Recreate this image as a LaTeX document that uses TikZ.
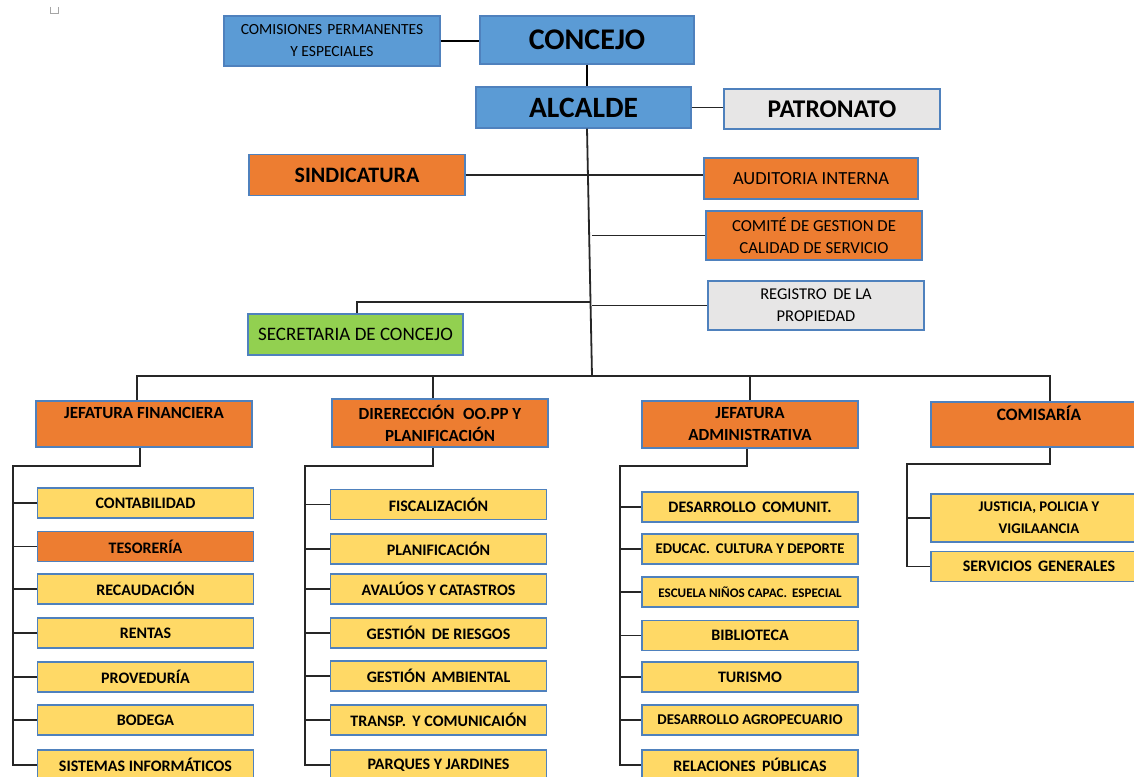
\documentclass[tikz,border=0pt]{standalone}
\usepackage{fontspec}
\setmainfont{Carlito}
\usepackage{xcolor}
\usetikzlibrary{positioning}

\definecolor{azul}{HTML}{5B9BD5}
\definecolor{naranja}{HTML}{ED7D31}
\definecolor{amarillo}{HTML}{FFD966}
\definecolor{gris}{HTML}{E7E6E6}
\definecolor{verde}{HTML}{92D050}
\definecolor{borde}{HTML}{4F81BD}
\definecolor{linea}{HTML}{262626}

\begin{document}
\begin{tikzpicture}[x=1pt, y=-1pt,
  caja/.style={draw=borde, line width=1.1pt, inner sep=0pt, align=center,
    minimum width=216pt, minimum height=30pt, font=\bfseries\fontsize{16}{22}\selectfont},
  item/.style={caja, fill=amarillo},
  jefe/.style={caja, fill=naranja, minimum height=46pt, font=\bfseries\fontsize{17}{22}\selectfont},
  linea fina/.style={draw=linea, line width=1.8pt},
  linea gruesa/.style={draw=black, line width=2.6pt}]

\useasboundingbox (0,0) rectangle (1134,776);
\fill[white] (0,0) rectangle (1134,776);
\clip (0,0) rectangle (1134,776);

% marca de parrafo
\draw[gray!70, line width=0.8pt] (50,7) -- (50,13) -- (58,13) -- (58,7);

% nivel superior
\node[caja, fill=azul, minimum height=50pt, font=\fontsize{15.5}{22}\selectfont] (comisiones) at (332,41) {COMISIONES\,\,PERMANENTES\\Y ESPECIALES};
\node[caja, fill=azul, minimum width=214pt, minimum height=48pt, font=\bfseries\fontsize{30}{32}\selectfont] (concejo) at (587,40) {CONCEJO};
\node[caja, fill=azul, minimum width=215pt, minimum height=41pt, font=\bfseries\fontsize{29.5}{32}\selectfont] (alcalde) at (583.5,107.5) {ALCALDE};
\node[caja, fill=gris, minimum height=40pt, font=\bfseries\fontsize{25.5}{28}\selectfont] (patronato) at (832,109) {PATRONATO};

\node[caja, fill=naranja, minimum height=41pt, font=\bfseries\fontsize{22}{24}\selectfont] (sindicatura) at (357,175) {SINDICATURA};
\node[caja, fill=naranja, minimum width=214pt, minimum height=41pt, font=\fontsize{18.5}{22}\selectfont] (auditoria) at (811,178.5) {AUDITORIA INTERNA};
\node[caja, fill=naranja, minimum height=49pt, font=\fontsize{16.8}{22}\selectfont] (comite) at (814,235.5) {COMITÉ DE GESTION DE\\CALIDAD DE SERVICIO};
\node[caja, fill=gris, minimum height=49pt, font=\fontsize{16.5}{22}\selectfont] (registro) at (816,305.5) {REGISTRO\, DE LA\\PROPIEDAD};
\node[caja, fill=verde, minimum width=215pt, minimum height=41pt, font=\fontsize{19}{22}\selectfont] (secretaria) at (355.5,334.5) {SECRETARIA DE CONCEJO};

\coordinate (sec) at (591,302);
\coordinate (bus) at (592,376);

\draw[linea gruesa] (comisiones.east) -- (comisiones.east -| concejo.west);
\draw[linea gruesa] (concejo.south) -- (concejo.south |- alcalde.north);
\draw[linea fina] (alcalde.east) -- (alcalde.east -| patronato.west);
\draw[linea fina] (concejo.south |- alcalde.south) -- (bus);
\draw[linea fina] (sindicatura.east) -- (sindicatura.east -| auditoria.west);
\draw[linea fina] (comite.west) -- (comite.west -| bus);
\draw[linea fina] (registro.west) -- (registro.west -| bus);
\draw[linea fina] (sec) -| ([xshift=1.5pt]secretaria.north);

% jefaturas
\node[jefe] (jfinanciera) at (144,424) {JEFATURA FINANCIERA\\\mbox{}};
\node[jefe, minimum height=48pt] (direccion) at (440,423) {DIRERECCIÓN\; OO.PP Y\\PLANIFICACIÓN};
\node[jefe, minimum height=47pt] (jadministrativa) at (750,424.5) {JEFATURA\\ADMINISTRATIVA};
\node[jefe, minimum height=45pt, font=\bfseries\fontsize{17.4}{22}\selectfont] (comisaria) at (1039,424.5) {COMISARÍA\\\mbox{}};

\draw[linea fina] ([xshift=-7pt]jfinanciera.north) |- (bus) -| ([xshift=11pt]comisaria.north);
\draw[linea fina] ([xshift=-7pt]direccion.north) -- ([xshift=-7pt]direccion.north |- bus);
\draw[linea fina] (jadministrativa.north) -- (jadministrativa.north |- bus);

% jefatura financiera
\node[item] (contabilidad) at (145.5,503) {CONTABILIDAD};
\node[item, fill=naranja] (tesoreria) at (145.5,546.5) {TESORERÍA};
\node[item] (recaudacion) at (145.5,589) {RECAUDACIÓN};
\node[item] (rentas) at (145.5,633) {RENTAS};
\node[item] (proveduria) at (145.5,677) {PROVEDURÍA};
\node[item] (bodega) at (145.5,720) {BODEGA};
\node[item] (sistemas) at (145.5,765) {SISTEMAS INFORMÁTICOS};

\coordinate (finbus) at (13,466);
\draw[linea fina] ([xshift=-4pt]jfinanciera.south) |- (finbus) |- (sistemas.west);
\draw[linea fina] (contabilidad.west) -- (contabilidad.west -| finbus);
\draw[linea fina] (tesoreria.west) -- (tesoreria.west -| finbus);
\draw[linea fina] (recaudacion.west) -- (recaudacion.west -| finbus);
\draw[linea fina] (rentas.west) -- (rentas.west -| finbus);
\draw[linea fina] (proveduria.west) -- (proveduria.west -| finbus);
\draw[linea fina] (bodega.west) -- (bodega.west -| finbus);

% direccion oo.pp
\node[item] (fiscalizacion) at (438.5,504.5) {FISCALIZACIÓN};
\node[item] (planificacion) at (438.5,549) {PLANIFICACIÓN};
\node[item] (avaluos) at (438.5,589) {AVALÚOS Y CATASTROS};
\node[item] (riesgos) at (438.5,633) {GESTIÓN\, DE RIESGOS};
\node[item] (ambiental) at (438.5,676) {GESTIÓN\, AMBIENTAL};
\node[item] (transporte) at (438.5,720) {TRANSP.\, Y COMUNICAIÓN};
\node[item] (parques) at (438.5,765) {PARQUES Y JARDINES};

\coordinate (dirbus) at (305,466);
\draw[linea fina] ([xshift=-7pt]direccion.south) |- (dirbus) |- (parques.west);
\draw[linea fina] (fiscalizacion.west) -- (fiscalizacion.west -| dirbus);
\draw[linea fina] (planificacion.west) -- (planificacion.west -| dirbus);
\draw[linea fina] (avaluos.west) -- (avaluos.west -| dirbus);
\draw[linea fina] (riesgos.west) -- (riesgos.west -| dirbus);
\draw[linea fina] (ambiental.west) -- (ambiental.west -| dirbus);
\draw[linea fina] (transporte.west) -- (transporte.west -| dirbus);

% jefatura administrativa
\node[item] (comunitario) at (750,507) {DESARROLLO\, COMUNIT.};
\node[item, font=\bfseries\fontsize{14.8}{22}\selectfont] (educacion) at (750,549) {EDUCAC.\, CULTURA Y DEPORTE};
\node[item, font=\bfseries\fontsize{13.1}{22}\selectfont] (escuela) at (750,592) {ESCUELA NIÑOS CAPAC.\, ESPECIAL};
\node[item] (biblioteca) at (750,635.5) {BIBLIOTECA};
\node[item] (turismo) at (750,677) {TURISMO};
\node[item, font=\bfseries\fontsize{14.9}{22}\selectfont] (agropecuario) at (750,720) {DESARROLLO AGROPECUARIO};
\node[item] (relaciones) at (750,765) {RELACIONES\, PÚBLICAS};

\coordinate (admbus) at (620,466);
\draw[linea fina] ([xshift=-3pt]jadministrativa.south) |- (admbus) |- (relaciones.west);
\draw[linea fina] (comunitario.west) -- (comunitario.west -| admbus);
\draw[linea fina] (educacion.west) -- (educacion.west -| admbus);
\draw[linea fina] (escuela.west) -- (escuela.west -| admbus);
\draw[linea fina] (biblioteca.west) -- (biblioteca.west -| admbus);
\draw[linea fina] (turismo.west) -- (turismo.west -| admbus);
\draw[linea fina] (agropecuario.west) -- (agropecuario.west -| admbus);

% comisaria
\node[item, minimum height=48pt, font=\bfseries\fontsize{14.8}{22}\selectfont] (justicia) at (1039,518) {JUSTICIA, POLICIA Y\\VIGILAANCIA};
\node[item] (servicios) at (1039,566.5) {SERVICIOS\, GENERALES};

\coordinate (combus) at (907,464);
\draw[linea fina] ([xshift=11pt]comisaria.south) |- (combus) |- (servicios.west);
\draw[linea fina] (justicia.west) -- (justicia.west -| combus);

\end{tikzpicture}
\end{document}
